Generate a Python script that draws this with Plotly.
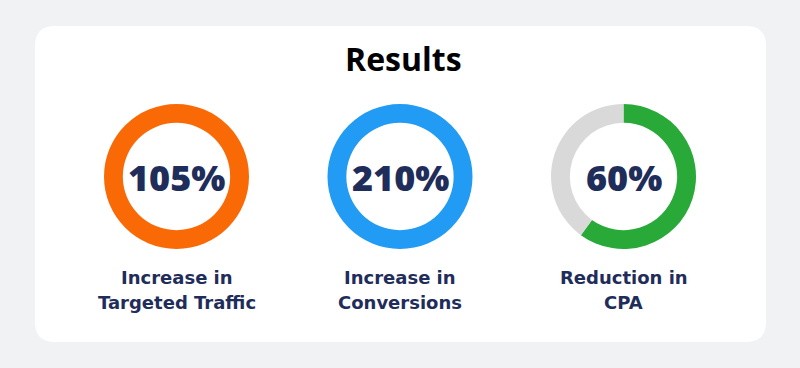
import plotly.graph_objects as go

# Data
metrics = ["105%", "210%", "60%"]
values = [105, 210, 60]
label_line1 = ["Increase in", "Increase in", "Reduction in"]
label_line2 = ["Targeted Traffic", "Conversions", "CPA"]
ring_colors = ["#F96A06", "#219BF4", "#29AA38"]
track_color = "#D9D9D9"
title = "Results"

W, H = 800, 368
centers_x = [176.5, 400, 623.5]
center_y = 176.5
R = 72.5
NAVY = "#1F2D5A"

fig = go.Figure()

for i, v in enumerate(values):
    filled = min(v, 100)
    cx = centers_x[i]
    fig.add_trace(go.Pie(
        values=[filled, 100 - filled],
        marker=dict(colors=[ring_colors[i], track_color], line=dict(width=0)),
        hole=0.74,
        sort=False,
        direction="clockwise",
        rotation=0,
        textinfo="none",
        hoverinfo="skip",
        showlegend=False,
        domain=dict(x=[(cx - R) / W, (cx + R) / W],
                    y=[1 - (center_y + R) / H, 1 - (center_y - R) / H]),
    ))
    fig.add_annotation(x=cx / W, y=1 - (center_y + 1) / H, xref="paper", yref="paper",
                       text=metrics[i], showarrow=False, xanchor="center", yanchor="middle",
                       font=dict(family="Open Sans", size=36, color=NAVY, weight=800))
    fig.add_annotation(x=cx / W, y=1 - 277 / H, xref="paper", yref="paper",
                       text=label_line1[i], showarrow=False, xanchor="center", yanchor="middle",
                       font=dict(family="DejaVu Sans", size=18, color=NAVY, weight=700))
    fig.add_annotation(x=cx / W, y=1 - 302.5 / H, xref="paper", yref="paper",
                       text=label_line2[i], showarrow=False, xanchor="center", yanchor="middle",
                       font=dict(family="DejaVu Sans", size=18, color=NAVY, weight=700))

fig.add_annotation(x=403 / W, y=1 - 58 / H, xref="paper", yref="paper",
                   text=title, showarrow=False, xanchor="center", yanchor="middle",
                   font=dict(family="Open Sans", size=32, color="#000000", weight=700))

# rounded card
x0, x1, y0, y1, r = 35, 766, 26, 342, 20
def px(x):
    return x / W
def py(y):
    return 1 - y / H
path = (f"M {px(x0 + r)},{py(y0)} L {px(x1 - r)},{py(y0)} Q {px(x1)},{py(y0)} {px(x1)},{py(y0 + r)} "
        f"L {px(x1)},{py(y1 - r)} Q {px(x1)},{py(y1)} {px(x1 - r)},{py(y1)} "
        f"L {px(x0 + r)},{py(y1)} Q {px(x0)},{py(y1)} {px(x0)},{py(y1 - r)} "
        f"L {px(x0)},{py(y0 + r)} Q {px(x0)},{py(y0)} {px(x0 + r)},{py(y0)} Z")
fig.add_shape(type="path", path=path, xref="paper", yref="paper",
              fillcolor="#FFFFFF", line=dict(width=0), layer="below")

fig.update_layout(
    width=W, height=H,
    margin=dict(l=0, r=0, t=0, b=0),
    paper_bgcolor="#F1F2F4",
    plot_bgcolor="#F1F2F4",
)

fig.write_html("out.html", config={"displayModeBar": False})
